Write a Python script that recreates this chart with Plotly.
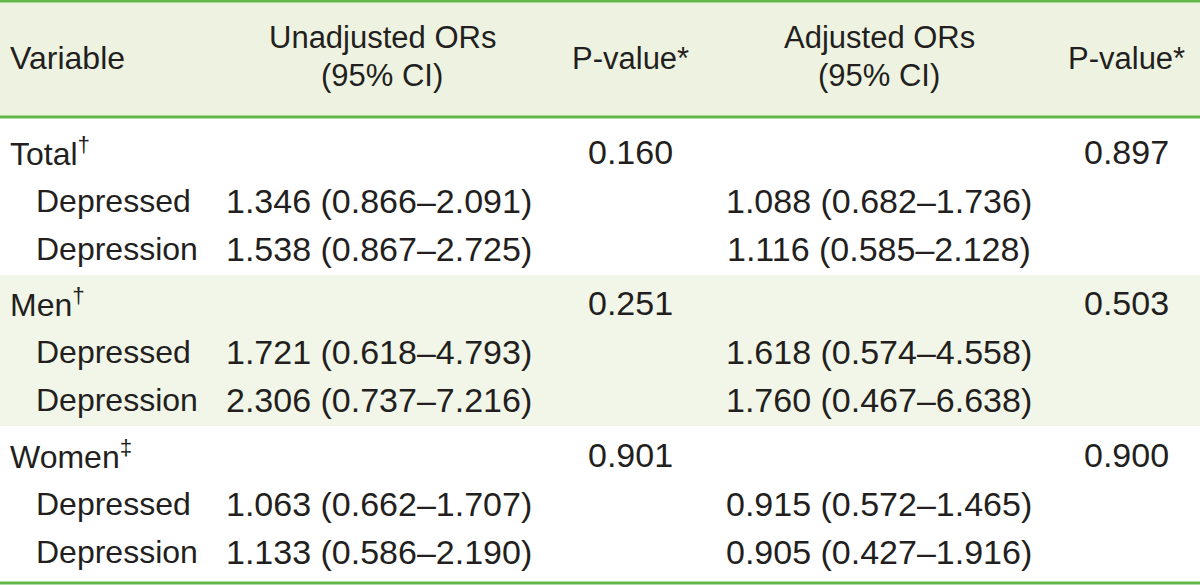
import plotly.graph_objects as go

# ---------------- data ----------------
groups = ["Total", "Men", "Women"]
group_marks = ["†", "†", "‡"]
subgroups = ["Depressed", "Depression"]

unadj_or = [1.346, 1.538, 1.721, 2.306, 1.063, 1.133]
unadj_lo = [0.866, 0.867, 0.618, 0.737, 0.662, 0.586]
unadj_hi = [2.091, 2.725, 4.793, 7.216, 1.707, 2.190]
unadj_p = [0.160, 0.251, 0.901]

adj_or = [1.088, 1.116, 1.618, 1.760, 0.915, 0.905]
adj_lo = [0.682, 0.585, 0.574, 0.467, 0.572, 0.427]
adj_hi = [1.736, 2.128, 4.558, 6.638, 1.465, 1.916]
adj_p = [0.897, 0.503, 0.900]

headers = ["Variable", "Unadjusted ORs", "(95% CI)", "P-value*", "Adjusted ORs", "(95% CI)", "P-value*"]

# ---------------- style ----------------
FONT = "Liberation Sans Narrow, Liberation Sans, Arial, sans-serif"
TXT = "#231f20"
GREEN = "#62b74a"
HEAD_BG = "#eef3e1"
BAND_BG = "#f2f6e8"
FS = 32
FS_HEAD = 31
FS_NUM = 34

W, H = 1200, 585
fig = go.Figure()
fig.add_trace(go.Scatter(x=[0, W], y=[0, H], mode="markers",
                         marker=dict(opacity=0), hoverinfo="skip", showlegend=False))

# column positions
X_VAR, X_SUB = 8, 34
X_UN, X_P1, X_AD, X_P2 = 379, 630, 879, 1126
X_UN_H, X_AD_H = 382, 879
DY = 0

shapes = []
shapes.append(dict(type="rect", xref="x", yref="y", x0=0, x1=W, y0=0, y1=117,
                   fillcolor=HEAD_BG, line_width=0, layer="below"))
shapes.append(dict(type="rect", xref="x", yref="y", x0=0, x1=W, y0=275, y1=426,
                   fillcolor=BAND_BG, line_width=0, layer="below"))
for yy, lw in [(1.2, 2.5), (117, 3), (583, 3)]:
    shapes.append(dict(type="line", xref="x", yref="y", x0=0, x1=W, y0=yy, y1=yy,
                       line=dict(color=GREEN, width=lw)))

ann = []
def txt(x, y, s, xanchor="center", size=FS):
    ann.append(dict(x=x, y=y + DY, xref="x", yref="y", text=s, showarrow=False,
                    xanchor=xanchor, yanchor="middle",
                    font=dict(family=FONT, size=size, color=TXT)))

txt(X_VAR, 58, headers[0], "left", FS_HEAD + 1)
txt(X_UN_H, 37, headers[1], size=FS_HEAD)
txt(X_UN_H, 75, headers[2], size=FS_HEAD)
txt(X_P1, 58, headers[3], size=FS_HEAD)
txt(X_AD_H, 37, headers[4], size=FS_HEAD)
txt(X_AD_H, 75, headers[5], size=FS_HEAD)
txt(X_P2, 58, headers[6], size=FS_HEAD)

group_y = [152, 303, 455]
step = 48.5
for g, name in enumerate(groups):
    y0 = group_y[g]
    txt(X_VAR, y0, f"{name}<sup>{group_marks[g]}</sup>", "left")
    txt(X_P1, y0, f"{unadj_p[g]:.3f}", size=FS_NUM)
    txt(X_P2, y0, f"{adj_p[g]:.3f}", size=FS_NUM)
    for k, sub in enumerate(subgroups):
        i = g * 2 + k
        yy = y0 + step * (k + 1)
        txt(X_SUB, yy, sub, "left")
        txt(X_UN, yy, f"{unadj_or[i]:.3f} ({unadj_lo[i]:.3f}–{unadj_hi[i]:.3f})", size=FS_NUM)
        txt(X_AD, yy, f"{adj_or[i]:.3f} ({adj_lo[i]:.3f}–{adj_hi[i]:.3f})", size=FS_NUM)

fig.update_layout(
    width=W, height=H, margin=dict(l=0, r=0, t=0, b=0),
    paper_bgcolor="white", plot_bgcolor="white",
    xaxis=dict(range=[0, W], visible=False, fixedrange=True),
    yaxis=dict(range=[H, 0], visible=False, fixedrange=True),
    shapes=shapes, annotations=ann, showlegend=False,
)
fig.write_html("out.html", config={"displayModeBar": False},
               post_script="document.body.style.margin='0';document.body.style.padding='0';"
                           "document.body.style.overflow='hidden';")
